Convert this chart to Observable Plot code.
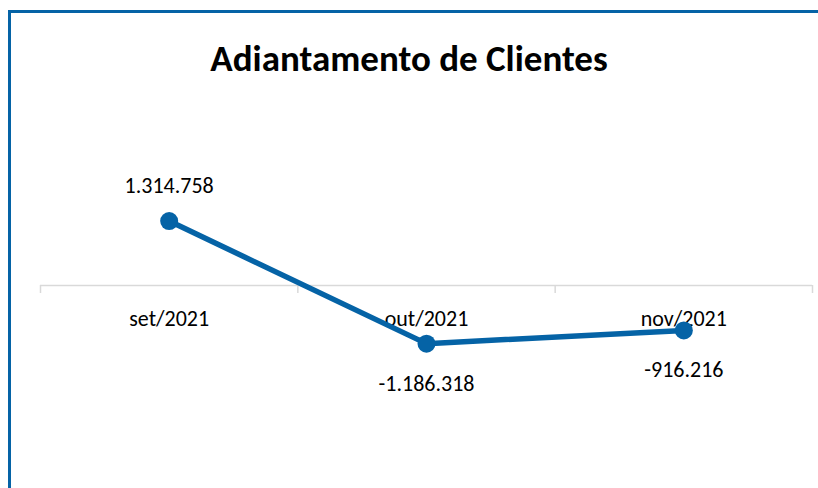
<!DOCTYPE html>
<html><head><meta charset="utf-8">
<script src="https://cdn.jsdelivr.net/npm/d3@7"></script>
<script src="https://cdn.jsdelivr.net/npm/@observablehq/plot@0.6"></script>
<style>
html,body{margin:0;padding:0;background:#fff;overflow:hidden;}
#wrap{position:relative;width:818px;height:488px;overflow:hidden;font-family:Carlito,Calibri,Lato,sans-serif;}
#frame{position:absolute;left:8px;top:10px;width:900px;height:600px;border:3px solid #0563a6;box-sizing:border-box;}
#title{position:absolute;left:0;width:818px;top:37px;text-align:center;font-weight:bold;font-size:37px;line-height:44px;color:#000;}
#chart{position:absolute;left:0;top:0;}
</style></head>
<body><div id="wrap"><div id="frame"></div><div id="title">Adiantamento de Clientes</div><div id="chart"></div></div>
<script>
const categories = ["set/2021", "out/2021", "nov/2021"];
const values = [1314758, -1186318, -916216];

const fmt = d3.formatLocale({decimal: ",", thousands: ".", grouping: [3], currency: ["R$", ""], minus: "-"}).format(",d");
const data = categories.map((c, i) => ({cat: c, idx: i + 0.5, value: values[i]}));
const bounds = d3.range(categories.length + 1);
const color = "#0563a6";

const chart = Plot.plot({
  width: 818, height: 488,
  marginLeft: 40, marginRight: 6, marginTop: 89, marginBottom: 7,
  style: {fontFamily: "Carlito, Calibri, Lato, sans-serif", background: "transparent"},
  x: {domain: [0, categories.length], axis: null},
  y: {domain: [-4000000, 4000000], axis: null},
  marks: [
    Plot.ruleY([0], {stroke: "#d9d9d9", strokeWidth: 1.5}),
    Plot.ruleX(bounds, {x: d => d, y1: 0, y2: 0, insetBottom: -8, stroke: "#d9d9d9", strokeWidth: 1.5}),
    Plot.text(data, {x: "idx", y: 0, text: "cat", dy: 33, fontSize: 22, fill: "#000"}),
    Plot.line(data, {x: "idx", y: "value", stroke: color, strokeWidth: 5.5}),
    Plot.dot(data, {x: "idx", y: "value", r: 9, fill: color, stroke: "none"}),
    Plot.text(data, {x: "idx", y: "value", text: d => fmt(d.value), fontSize: 22, fill: "#000",
      filter: d => d.value >= 0, dy: -35}),
    Plot.text(data, {x: "idx", y: "value", text: d => fmt(d.value), fontSize: 22, fill: "#000",
      filter: d => d.value < 0, dy: 40})
  ]
});
document.getElementById("chart").appendChild(chart);
</script></body></html>
